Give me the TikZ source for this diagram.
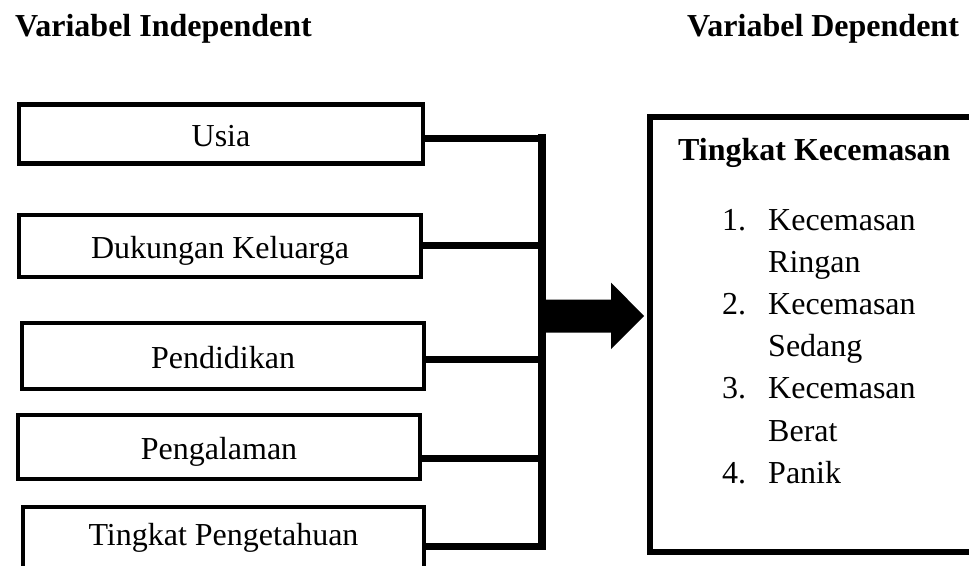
\documentclass[tikz,border=0pt]{standalone}
\usepackage{fontspec}
\setmainfont{Liberation Serif}
\usetikzlibrary{calc}
\begin{document}
\begin{tikzpicture}[x=1pt,y=-1pt,
  txt/.style={font=\fontsize{32}{42}\selectfont, inner sep=0pt},
  varbox/.style={draw=black, line width=4.5pt, rectangle, txt, text height=24pt, text depth=0pt},
  conn/.style={line width=7pt},
  vbar/.style={line width=8pt, line cap=rect},
  head/.style={txt, font=\fontsize{32}{42}\selectfont\bfseries, anchor=base west},
  item/.style={txt, anchor=base west}
]
\useasboundingbox (0,0) rectangle (969,565);
\clip (0,0) rectangle (969,565);

% headers
\node[head] (hi) at (15,36) {Variabel Independent};
\node[head] (hd) at (687,36) {Variabel Dependent};

% independent variable boxes
\node[varbox, minimum width=404pt, minimum height=59pt] (b1) at (221,134) {Usia};
\node[varbox, minimum width=402pt, minimum height=62pt] (b2) at (220,246) {Dukungan Keluarga};
\node[varbox, minimum width=402pt, minimum height=66pt] (b3) at (223,356) {Pendidikan};
\node[varbox, minimum width=402pt, minimum height=64pt] (b4) at (219,447) {Pengalaman};
\node[varbox, text depth=24pt, minimum width=401pt, minimum height=76pt] (b5) at (223.5,545) {Tingkat Pengetahuan};

% junction coordinates on the collecting bar
\coordinate (j1) at (542,138);
\coordinate (j2) at (542,245);
\coordinate (j3) at (542,359);
\coordinate (j4) at (542,458);
\coordinate (j5) at (542,546);

\draw[conn] (b1.east |- j1) -- (j1);
\draw[conn] (b2.east |- j2) -- (j2);
\draw[conn] (b3.east |- j3) -- (j3);
\draw[conn] (b4.east |- j4) -- (j4);
\draw[conn] (b5.east |- j5) -- (j5);
\draw[vbar] (j1) -- (j5);

% dependent variable box
\node[draw=black, line width=5.5pt, rectangle, minimum width=360pt, minimum height=435pt, inner sep=0pt] (dep) at (830,334.5) {};

% big arrow
\coordinate (as) at (545,316);
\coordinate (tip) at (644,316);
\fill[black] ($(as)+(0,-16.5)$) -- ++(66,0) -- ++(0,-17) -- (tip) -- (611,349) -- (611,332.5) -- ($(as)+(0,16.5)$) -- cycle;

% contents
\node[head] (t) at (678,160) {Tingkat Kecemasan};
\node[item] (n1) at (722,230) {1.};
\node[item] (i1) at (768,230) {Kecemasan};
\node[item] (i1b) at (768,272) {Ringan};
\node[item] (n2) at (722,314) {2.};
\node[item] (i2) at (768,314) {Kecemasan};
\node[item] (i2b) at (768,356) {Sedang};
\node[item] (n3) at (722,398) {3.};
\node[item] (i3) at (768,398) {Kecemasan};
\node[item] (i3b) at (768,441) {Berat};
\node[item] (n4) at (722,483) {4.};
\node[item] (i4) at (768,483) {Panik};
\end{tikzpicture}
\end{document}
